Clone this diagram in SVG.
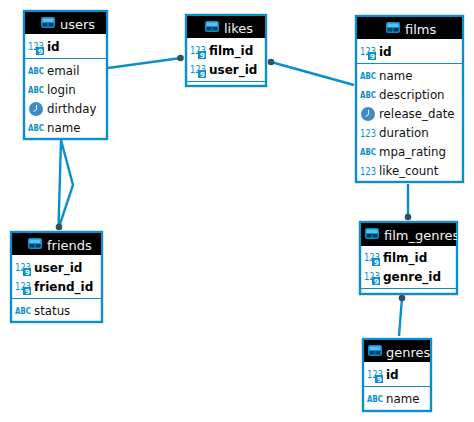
<svg xmlns="http://www.w3.org/2000/svg" width="474" height="422" viewBox="0 0 474 422">
<style>
text{font-family:"DejaVu Sans",sans-serif;font-size:11.8px;fill:#111}
.t{font-size:13px;fill:#f4f4f4}
.b{font-size:12px;font-weight:bold;fill:#000}
.box{fill:#fff;stroke:#0a8fcc;stroke-width:2.400}
.hd{fill:#000}
.sep{stroke:#0a8fcc;stroke-width:1;fill:none}
.c{fill:none;stroke:#0a8fcc;stroke-width:2.400}
.d{fill:#2f4f63}
.n{font-size:10.500px;fill:#0a8fcc}
.a{font-size:8.500px;font-weight:bold;fill:#0a8fcc}
.k{font-size:7px;font-weight:bold;fill:#fff}
</style>
<defs>
<g id="tbl"><rect x="0" y="0" width="14" height="11" rx="2" fill="#0a8fcc"/><rect x="1.500" y="1.500" width="11" height="3.500" fill="#5cc0ea"/><rect x="1.500" y="6" width="5" height="3.500" fill="#003a5c"/><rect x="7.500" y="6" width="5" height="3.500" fill="#003a5c"/></g>
<g id="key"><text class="n" x="0" y="9" textLength="16" lengthAdjust="spacingAndGlyphs">123</text><rect x="8" y="6" width="8" height="8" fill="#0a8fcc"/><text class="k" x="10" y="13">9</text></g>
<g id="abc"><text class="a" x="0" y="9" textLength="16" lengthAdjust="spacingAndGlyphs">ABC</text></g>
<g id="num"><text class="n" x="0" y="10" textLength="16" lengthAdjust="spacingAndGlyphs">123</text></g>
<g id="clk"><circle cx="7" cy="7" r="7" fill="#3d8cc8"/><path d="M7.500 3v4.500L4.500 9.500" fill="none" stroke="#fff" stroke-width="1"/></g>
<clipPath id="cg"><rect x="360" y="222" width="97" height="72"/></clipPath>
<clipPath id="cr"><rect x="363" y="339" width="68" height="72"/></clipPath>
</defs>
<g id="connectors">
<path class="c" d="M108 68L181 58"/>
<circle class="d" cx="180.500" cy="58" r="3.300"/>
<path class="c" d="M271 62L354 85"/>
<circle class="d" cx="271" cy="62" r="3.300"/>
<path class="c" d="M61 140L58.500 227M61 140L73 185L59 227"/>
<circle class="d" cx="59" cy="227" r="3.300"/>
<path class="c" d="M408 184L408 217"/>
<circle class="d" cx="408" cy="217" r="3.300"/>
<path class="c" d="M402 298L399 336"/>
<circle class="d" cx="402" cy="298" r="3.300"/>
</g>
<g id="users">
<rect class="box" x="24" y="11" width="83" height="128"/>
<rect class="hd" x="25" y="12" width="81" height="22"/>
<use href="#tbl" x="41" y="17"/><text class="t" x="60" y="29">users</text>
<path class="sep" d="M25 58.500H106"/>
<use href="#key" x="28" y="41"/><text class="b" x="47" y="51">id</text>
<use href="#abc" x="28" y="65"/><text x="47" y="75">email</text>
<use href="#abc" x="28" y="84"/><text x="47" y="94">login</text>
<use href="#clk" x="29" y="102"/><text x="47" y="113">dirthday</text>
<use href="#abc" x="28" y="122"/><text x="47" y="132">name</text>
</g>
<g id="friends">
<rect class="box" x="11" y="232" width="91" height="90"/>
<rect class="hd" x="12" y="233" width="89" height="22"/>
<use href="#tbl" x="28" y="238"/><text class="t" x="47" y="250">friends</text>
<path class="sep" d="M12 298.500H101"/>
<use href="#key" x="15" y="262"/><text class="b" x="34" y="272">user_id</text>
<use href="#key" x="15" y="281"/><text class="b" x="34" y="291">friend_id</text>
<use href="#abc" x="15" y="305"/><text x="34" y="315">status</text>
</g>
<g id="likes">
<rect class="box" x="186" y="15" width="80" height="71"/>
<rect class="hd" x="187" y="16" width="78" height="22"/>
<use href="#tbl" x="205" y="21"/><text class="t" x="224" y="33">likes</text>
<path class="sep" d="M187 81.500H265"/>
<use href="#key" x="190" y="45"/><text class="b" x="209" y="55">film_id</text>
<use href="#key" x="190" y="64"/><text class="b" x="209" y="74">user_id</text>
</g>
<g id="films">
<rect class="box" x="356" y="16" width="107" height="166"/>
<rect class="hd" x="357" y="17" width="105" height="22"/>
<use href="#tbl" x="386" y="22"/><text class="t" x="405" y="34">films</text>
<path class="sep" d="M357 63.500H462"/>
<use href="#key" x="360" y="46"/><text class="b" x="379" y="56">id</text>
<use href="#abc" x="360" y="70"/><text x="379" y="80">name</text>
<use href="#abc" x="360" y="89"/><text x="379" y="99">description</text>
<use href="#clk" x="361" y="107"/><text x="379" y="118">release_date</text>
<use href="#num" x="360" y="127"/><text x="379" y="137">duration</text>
<use href="#abc" x="360" y="146"/><text x="379" y="156">mpa_rating</text>
<use href="#num" x="360" y="165"/><text x="379" y="175">like_count</text>
</g>
<g id="film_genres">
<rect class="box" x="360" y="222" width="97" height="72"/>
<rect class="hd" x="361" y="223" width="95" height="23"/>
<use href="#tbl" x="365" y="228"/><text class="t" x="384" y="239.500" clip-path="url(#cg)">film_genres</text>
<path class="sep" d="M361 288.500H456"/>
<use href="#key" x="364" y="252"/><text class="b" x="383" y="262">film_id</text>
<use href="#key" x="364" y="271"/><text class="b" x="383" y="281">genre_id</text>
</g>
<g id="genres">
<rect class="box" x="363" y="339" width="68" height="72"/>
<rect class="hd" x="364" y="340" width="66" height="22"/>
<use href="#tbl" x="368" y="345"/><text class="t" x="386" y="357" clip-path="url(#cr)">genres</text>
<path class="sep" d="M364 386.500H430"/>
<use href="#key" x="367" y="369"/><text class="b" x="386" y="379">id</text>
<use href="#abc" x="367" y="393"/><text x="386" y="403">name</text>
</g>
</svg>
